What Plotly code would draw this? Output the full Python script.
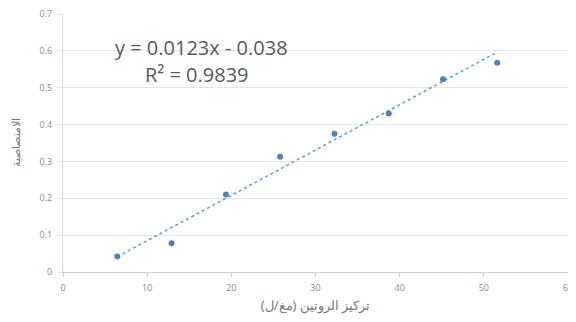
import plotly.graph_objects as go

# Data
concentration = [6.45, 12.9, 19.35, 25.8, 32.25, 38.7, 45.15, 51.6]
absorbance = [0.042, 0.078, 0.21, 0.313, 0.375, 0.43, 0.523, 0.568]
slope = 0.0123
intercept = -0.038
r_squared = 0.9839
x_ticks = [0, 10, 20, 30, 40, 50, 60]
y_ticks = [0, 0.1, 0.2, 0.3, 0.4, 0.5, 0.6, 0.7]
y_tick_labels = ["0", "0.1", "0.2", "0.3", "0.4", "0.5", "0.6", "0.7"]

trend_x = [min(concentration), max(concentration)]
trend_y = [slope * v + intercept for v in trend_x]

fig = go.Figure()
fig.add_trace(go.Scatter(x=trend_x, y=trend_y, mode="lines",
                         line=dict(color="#5B9BD5", width=1.5, dash="dot"),
                         hoverinfo="skip", showlegend=False))
fig.add_trace(go.Scatter(x=concentration, y=absorbance, mode="markers",
                         marker=dict(color="#4F81BD", size=6),
                         showlegend=False))

fig.add_annotation(x=16.4, y=0.608, xref="x", yref="y",
                   text=f"y = {slope}x - {abs(intercept)}", showarrow=False,
                   font=dict(size=20, color="#595959", family="Open Sans"),
                   xanchor="center", yanchor="middle")
fig.add_annotation(x=15.9, y=0.535, xref="x", yref="y",
                   text=f"R² = {r_squared}", showarrow=False,
                   font=dict(size=20, color="#595959", family="Open Sans"),
                   xanchor="center", yanchor="middle")

fig.update_layout(
    width=568, height=314,
    margin=dict(l=55, r=8, t=6, b=50, autoexpand=False),
    paper_bgcolor="white", plot_bgcolor="white",
    font=dict(family="Open Sans", color="#8a8a8a", size=9),
    xaxis=dict(range=[0, 60], tickvals=x_ticks, showgrid=False,
               showline=True, linecolor="#d0d0d0", linewidth=1,
               ticks="outside", ticklen=4, tickcolor="#d0d0d0",
               ticklabelstandoff=3, ticklabeloverflow="allow",
               zeroline=False, automargin=False,
               title=dict(text="تركيز الروتين (مغ/ل)", standoff=8,
                          font=dict(size=13, color="#777777", family="Noto Sans"))),
    yaxis=dict(range=[0, 0.7], tickvals=y_ticks, ticktext=y_tick_labels,
               showgrid=True, gridcolor="#e4e4e4", gridwidth=1,
               showline=True, linecolor="#d8d8d8", linewidth=1,
               ticks="outside", ticklen=5, tickcolor="#e4e4e4",
               ticklabelstandoff=3, ticklabeloverflow="allow",
               zeroline=False, automargin=False,
               title=dict(text="الامتصاصية", standoff=16,
                          font=dict(size=11, color="#777777", family="Noto Sans"))),
)

fig.write_html("out.html")
